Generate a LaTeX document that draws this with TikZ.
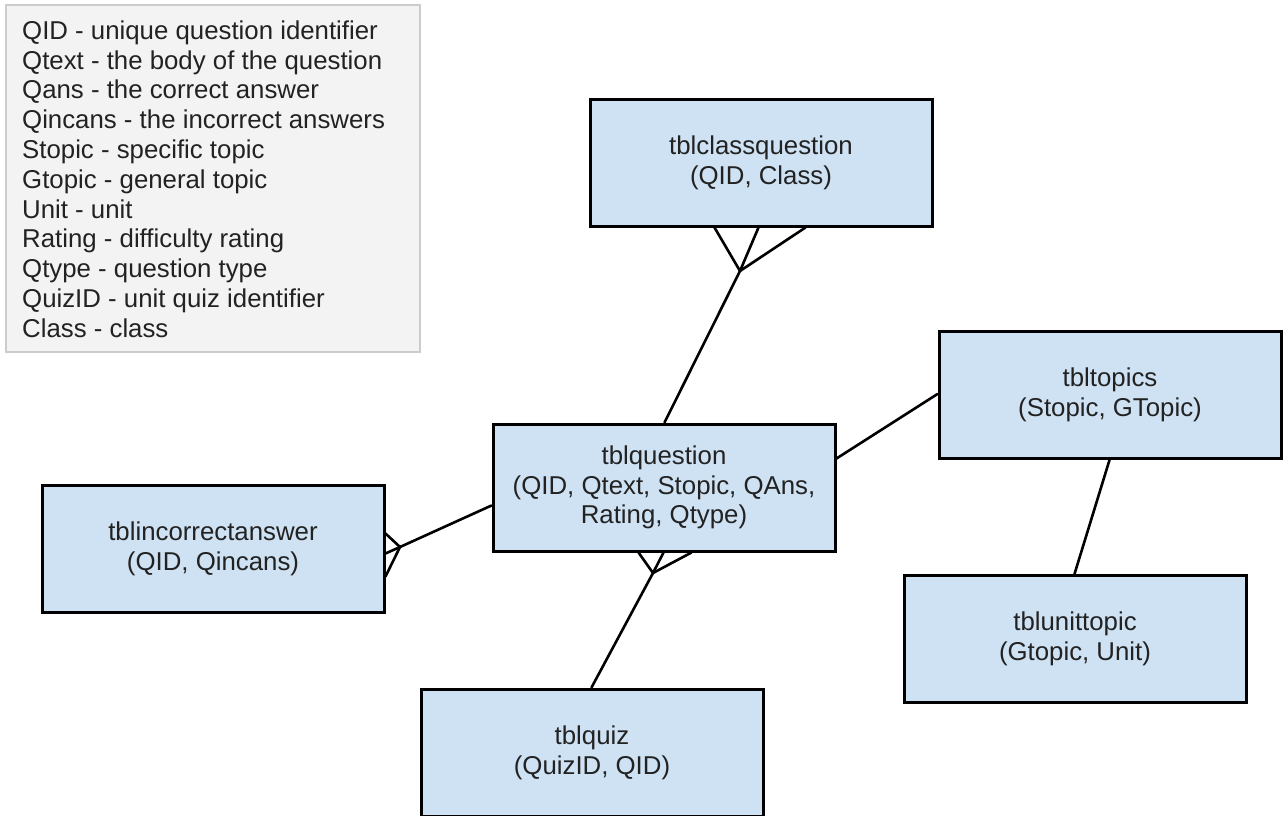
\documentclass[tikz,border=0pt]{standalone}
\usepackage{fontspec}
\setmainfont{Liberation Sans}
\usetikzlibrary{calc}
\definecolor{tablefill}{HTML}{CFE2F3}
\definecolor{legendfill}{HTML}{F3F3F3}
\definecolor{legendline}{HTML}{CCCCCC}
\definecolor{ink}{HTML}{222222}
\begin{document}
\begin{tikzpicture}[x=1pt,y=-1pt,
  every node/.style={font=\fontsize{25.8}{29.8}\selectfont, text=ink},
  table/.style={draw=black, line width=3pt, fill=tablefill, rectangle,
    minimum width=342pt, minimum height=127pt, inner sep=0pt, align=center},
  link/.style={draw=black, line width=2.6pt, line cap=round, line join=round}]
\useasboundingbox (0,0) rectangle (1283,816);

% legend of field abbreviations
\node[draw=legendline, line width=2pt, fill=legendfill, minimum width=414pt,
  minimum height=347pt, inner sep=0pt] (legend) at (213,178.5) {};
\node[anchor=north west, inner sep=0pt, align=left] (legendtext) at (22,20.5)
  {QID - unique question identifier\\
   Qtext - the body of the question\\
   Qans - the correct answer\\
   Qincans - the incorrect answers\\
   Stopic - specific topic\\
   Gtopic - general topic\\
   Unit - unit\\
   Rating - difficulty rating\\
   Qtype - question type\\
   QuizID - unit quiz identifier\\
   Class - class};

% tables
\node[table] (cq) at (761,162.5) {tblclassquestion\\(QID, Class)};
\node[table] (q)  at (664,487.5) {tblquestion\\(QID, Qtext, Stopic, QAns,\\Rating, Qtype)};
\node[table] (tp) at (1110,395) {tbltopics\\(Stopic, GTopic)};
\node[table] (ia) at (213,548.5) {tblincorrectanswer\\(QID, Qincans)};
\node[table] (ut) at (1075,639) {tblunittopic\\(Gtopic, Unit)};
\node[table] (qz) at (592,752.5) {tblquiz\\(QuizID, QID)};

% crow's foot meeting points
\coordinate (cqx) at (740,271);
\coordinate (iax) at (400,547);
\coordinate (qzx) at (653,573);

% tblclassquestion -- tblquestion (many side at tblclassquestion)
\draw[link] ($(cq.south west)+(126,0)$) -- (cqx) -- ($(cq.south west)+(217,0)$);
\draw[link] ($(cq.south west)+(170,0)$) -- (cqx);
\draw[link] (cqx) -- ($(q.north west)+(173,0)$);

% tblincorrectanswer -- tblquestion (many side at tblincorrectanswer)
\draw[link] ($(ia.north east)+(0,50)$) -- (iax) -- ($(ia.north east)+(0,93)$);
\draw[link] ($(ia.north east)+(0,70)$) -- (iax);
\draw[link] (iax) -- ($(q.north west)+(0,83)$);

% tblquestion -- tblquiz (many side at tblquestion)
\draw[link] ($(q.south west)+(147,0)$) -- (qzx) -- ($(q.south west)+(200,0)$);
\draw[link] ($(q.south west)+(172,0)$) -- (qzx);
\draw[link] (qzx) -- ($(qz.north west)+(172,0)$);

% tblquestion -- tbltopics
\draw[link] ($(q.north east)+(0,36)$) -- ($(tp.north west)+(0,64)$);

% tbltopics -- tblunittopic
\draw[link] ($(tp.south west)+(172,0)$) -- ($(ut.north west)+(172,0)$);
\end{tikzpicture}
\end{document}
